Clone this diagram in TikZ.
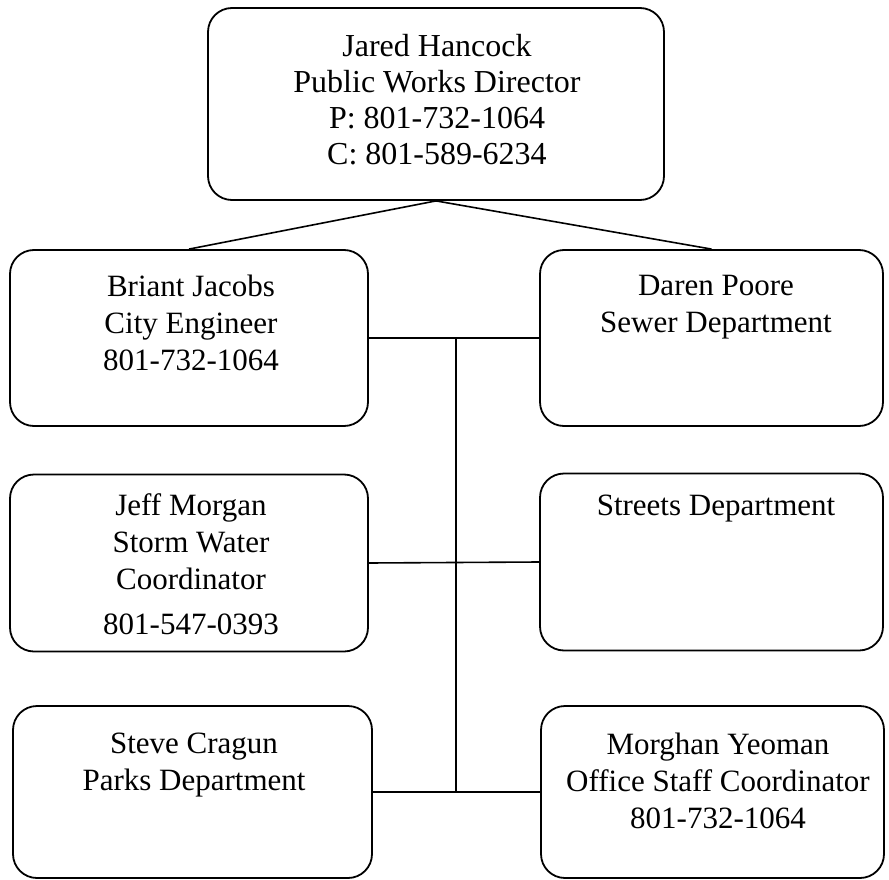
\documentclass[tikz,border=0pt]{standalone}
\usepackage{fontspec}
\setmainfont{Liberation Serif}
\begin{document}
\begin{tikzpicture}[x=1pt,y=-1pt,
  box/.style={draw=black,line width=1.8pt,rounded corners=24pt,inner sep=0pt},
  txt/.style={align=center,inner sep=0pt,font=\fontsize{31}{37}\selectfont},
  conn/.style={draw=black,line width=1.6pt}]
\useasboundingbox (0,0) rectangle (889,880);
% boxes
\node[box,minimum width=456pt,minimum height=192pt] (top) at (436,104) {};
\node[box,minimum width=358pt,minimum height=176pt] (briant) at (189,338) {};
\node[box,minimum width=343pt,minimum height=176pt] (daren) at (711.5,338) {};
\node[box,minimum width=358pt,minimum height=177pt] (jeff) at (189,563) {};
\node[box,minimum width=343pt,minimum height=177pt] (streets) at (711.5,562) {};
\node[box,minimum width=359pt,minimum height=172pt] (steve) at (192.5,792) {};
\node[box,minimum width=343pt,minimum height=172pt] (morghan) at (712.5,792) {};
% texts
\node[txt,font=\fontsize{32}{36}\selectfont] (ttop) at (437,100) {Jared Hancock\\Public Works Director\\P: 801-732-1064\\C: 801-589-6234};
\node[txt] (tbriant) at (191,323) {Briant Jacobs\\City Engineer\\801-732-1064};
\node[txt] (tdaren) at (716,307) {Daren Poore\\Sewer Department};
\node[txt] (tjeff) at (191,564) {Jeff Morgan\\Storm Water\\Coordinator\\[8pt]801-547-0393};
\node[txt] (tstreets) at (716,509) {Streets Department};
\node[txt] (tsteve) at (194,765) {Steve Cragun\\Parks Department};
\node[txt] (tmorghan) at (718,781) {Morghan Yeoman\\Office Staff Coordinator\\801-732-1064};
% connectors
\draw[conn] (top.south) -- (briant.north);
\draw[conn] (top.south) -- (daren.north);
\draw[conn] (briant.east) -- (daren.west);
\draw[conn] (jeff.east) -- (streets.west);
\draw[conn] (steve.east) -- (morghan.west);
\coordinate (vtop) at (456,338);
\coordinate (vbot) at (456,792);
\draw[conn] (vtop) -- (vbot);
\end{tikzpicture}
\end{document}
